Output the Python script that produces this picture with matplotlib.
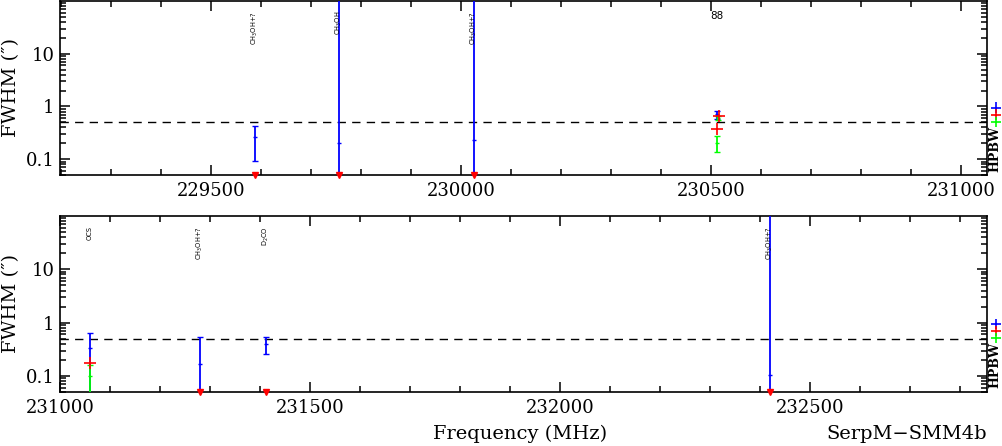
import matplotlib
matplotlib.use('Agg')
import matplotlib.pyplot as plt
from matplotlib.ticker import MultipleLocator, LogLocator, NullFormatter
import matplotlib.transforms as mtransforms

# frequency windows of the two panels (MHz)
panel_xlim = [(229198, 231052), (231000, 232854)]
ylim = (0.05, 100)
hpbw_line = 0.5

# line identifications
lab_freq = [229588, 229756, 230026, 230512, 231060, 231280, 231411, 232420]
lab_text = ['CH$_3$OH+?', 'CH$_3$OH', 'CH$_3$OH+?', '88', 'OCS',
            'CH$_3$OH+?', 'D$_2$CO', 'CH$_3$OH+?']
lab_rot = [90, 90, 90, 0, 90, 90, 90, 90]

# blue fits (value, lower, upper)
blue_freq = [229588, 229756, 230026, 230512, 231060, 231280, 231411, 232420]
blue_fwhm = [0.26, 0.20, 0.23, 0.72, 0.33, 0.166, 0.39, 0.106]
blue_lo = [0.092, 0.01, 0.01, 0.58, 0.02, 0.01, 0.255, 0.01]
blue_hi = [0.43, 1000, 1000, 0.83, 0.64, 0.537, 0.537, 1000]

# red points and upper limits
red_freq = [230515, 230512, 231060]
red_fwhm = [0.66, 0.38, 0.178]
red_lim_freq = [229588, 229756, 230026, 231280, 231411, 232420]

# green fits
green_freq = [230514, 230512, 231060]
green_fwhm = [0.6, 0.2, 0.099]
green_lo = [0.55, 0.137, 0.01]
green_hi = [0.65, 0.27, 0.157]

# beam sizes
hpbw_val = [0.95, 0.70, 0.51]
hpbw_col = ['#0000ff', '#ff0000', '#00ff00']

plt.rcParams['font.family'] = ['DejaVu Serif']

fig = plt.figure(figsize=(10.02, 4.46), dpi=100)
ax_top = fig.add_axes([0.0599, 0.6076, 0.9252, 0.3902])
ax_bot = fig.add_axes([0.0599, 0.1211, 0.9252, 0.3946])


def sel(freqs, lim):
    return [i for i, f in enumerate(freqs) if lim[0] <= f <= lim[1]]


for ax, lim in zip([ax_top, ax_bot], panel_xlim):
    ax.set_yscale('log')
    ax.set_xlim(*lim)
    ax.set_ylim(*ylim)
    ax.axhline(hpbw_line, color='black', lw=1.0, dashes=(6, 4.5))

    idx = sel(blue_freq, lim)
    if idx:
        f = [blue_freq[i] for i in idx]
        v = [blue_fwhm[i] for i in idx]
        err = [[blue_fwhm[i] - blue_lo[i] for i in idx],
               [blue_hi[i] - blue_fwhm[i] for i in idx]]
        ax.errorbar(f, v, yerr=err, fmt='_', color='#0000ff', ms=3,
                    elinewidth=1.3, capsize=2, capthick=1, zorder=3)

    idx = sel(green_freq, lim)
    if idx:
        f = [green_freq[i] for i in idx]
        v = [green_fwhm[i] for i in idx]
        err = [[green_fwhm[i] - green_lo[i] for i in idx],
               [green_hi[i] - green_fwhm[i] for i in idx]]
        ax.errorbar(f, v, yerr=err, fmt='_', color='#00ff00', ms=3,
                    elinewidth=1.3, capsize=2, capthick=1, zorder=4)

    idx = sel(red_freq, lim)
    if idx:
        ax.plot([red_freq[i] for i in idx], [red_fwhm[i] for i in idx], '+',
                color='#ff0000', ms=9, mew=1.2, zorder=5)

    idx = sel(red_lim_freq, lim)
    if idx:
        ax.plot([red_lim_freq[i] for i in idx], [ylim[0]] * len(idx), 'v',
                color='#ff0000', ms=5, clip_on=False, zorder=6)

    for i in sel(lab_freq, lim):
        ax.text(lab_freq[i], 64, lab_text[i], rotation=lab_rot[i],
                ha='center', va='top', family='DejaVu Sans',
                fontsize=4.8 if lab_rot[i] else 7.5)

    # beam sizes outside the right axis
    trans = mtransforms.blended_transform_factory(ax.transAxes, ax.transData)
    ax.scatter([1.0097] * 3, hpbw_val, marker='+', c=hpbw_col, s=55,
               linewidths=1.2, transform=trans, clip_on=False)
    ax.text(1.0015, 0.02, 'HPBW', rotation=90, transform=ax.transAxes,
            ha='left', va='bottom', fontsize=9, fontweight='bold')

    ax.xaxis.set_major_locator(MultipleLocator(500))
    ax.xaxis.set_minor_locator(MultipleLocator(100))
    ax.set_yticks([0.1, 1, 10])
    ax.set_yticklabels(['0.1', '1', '10'])
    ax.yaxis.set_minor_locator(LogLocator(base=10, subs=range(2, 10)))
    ax.yaxis.set_minor_formatter(NullFormatter())
    ax.tick_params(which='both', direction='in', top=True, right=True,
                   labelsize=13, width=1.1)
    ax.tick_params(which='major', length=7)
    ax.tick_params(axis='x', which='major', pad=5)
    ax.tick_params(axis='y', which='major', pad=4)
    ax.tick_params(which='minor', length=4)
    for s in ax.spines.values():
        s.set_linewidth(1.2)
    ax.set_ylabel('FWHM (″)', fontsize=14, labelpad=4)

ax_top.set_xticklabels([f'{int(t)}' for t in ax_top.get_xticks()])
ax_bot.set_xticklabels([f'{int(t)}' for t in ax_bot.get_xticks()])

fig.text(0.519, 0.006, 'Frequency (MHz)', ha='center', va='bottom', fontsize=14)
fig.text(0.985, 0.006, 'SerpM−SMM4b', ha='right', va='bottom', fontsize=14)

fig.savefig('out.png', dpi=100)
